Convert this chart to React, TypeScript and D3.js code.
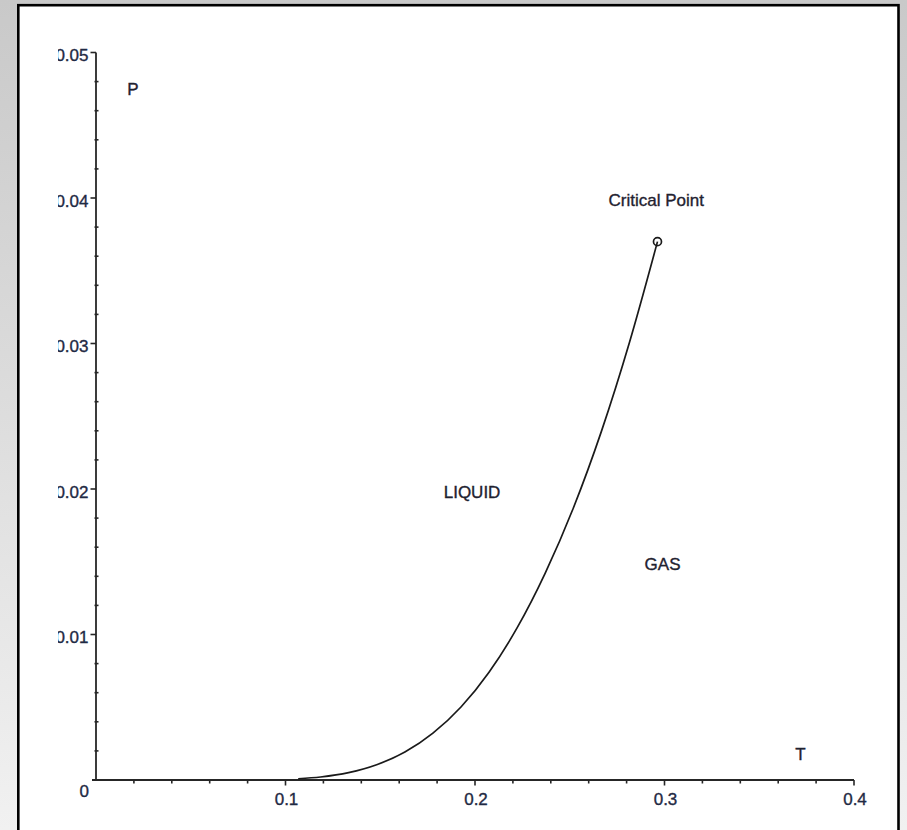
import React from "react";
import * as d3 from "d3";

// Coexistence (vapour-pressure) curve: T and P
const curveT = [0.1067, 0.1185, 0.1333, 0.1481, 0.163, 0.1778, 0.1926, 0.2074, 0.2222, 0.237, 0.2519, 0.2667, 0.2815, 0.2963];
const curveP = [0.000085, 0.000207, 0.000507, 0.00105, 0.00192, 0.00322, 0.00502, 0.00741, 0.01045, 0.0142, 0.01869, 0.02396, 0.03007, 0.037];

const criticalT = [0.2963];
const criticalP = [0.037];

const xTickValues = [0.1, 0.2, 0.3, 0.4];
const xTickLabels = ["0.1", "0.2", "0.3", "0.4"];
const yTickValues = [0.01, 0.02, 0.03, 0.04, 0.05];
const yTickLabels = ["0.01", "0.02", "0.03", "0.04", "0.05"];

const annotationTexts = ["P", "T", "Critical Point", "LIQUID", "GAS"];
const annotationT = [0.0165, 0.369, 0.2705, 0.1835, 0.2895];
const annotationP = [0.04705, 0.00135, 0.03944, 0.01938, 0.01444];

export default function App() {
  const W = 907;
  const H = 830;
  const x = d3.scaleLinear().domain([0, 0.4]).range([96, 854]);
  const y = d3.scaleLinear().domain([0, 0.05]).range([780, 52.5]);

  const pts: [number, number][] = curveT.map((t, i) => [t, curveP[i]]);
  const line = d3
    .line<[number, number]>()
    .x((d) => x(d[0]))
    .y((d) => y(d[1]))
    .curve(d3.curveMonotoneX);

  const xMinor = d3.range(0, 0.4001, 0.02).filter((v) => Math.abs((v * 10) - Math.round(v * 10)) > 1e-6);
  const yMinor = d3.range(0, 0.05001, 0.002).filter((v) => Math.abs((v * 100) - Math.round(v * 100)) > 1e-6);

  const font = "'Liberation Sans', Arial, sans-serif";
  const axisColor = "#262626";

  return (
    <svg
      width={W}
      height={H}
      style={{ position: "absolute", left: 0, top: 0, display: "block" }}
    >
      <defs>
        <linearGradient id="bg" x1="0" y1="0" x2="0" y2="1">
          <stop offset="0%" stopColor="#c9c9c9" />
          <stop offset="100%" stopColor="#f1f1f1" />
        </linearGradient>
        <clipPath id="ylabclip">
          <rect x={58} y={0} width={100} height={H} />
        </clipPath>
      </defs>
      <rect x={0} y={0} width={W} height={H} fill="url(#bg)" />
      <rect x={18.3} y={5.2} width={880.2} height={900} fill="#ffffff" stroke="#000" strokeWidth={2.6} />

      {/* axes */}
      <line x1={x(0) - 4} x2={x(0.4)} y1={y(0)} y2={y(0)} stroke={axisColor} strokeWidth={1.8} />
      <line x1={x(0)} x2={x(0)} y1={y(0.05)} y2={y(0) + 0.9} stroke={axisColor} strokeWidth={1.8} />

      {xMinor.map((v, i) => (
        <line key={"xm" + i} x1={x(v)} x2={x(v)} y1={y(0)} y2={y(0) + 3.5} stroke={axisColor} strokeWidth={1.6} />
      ))}
      {xTickValues.map((v, i) => (
        <line key={"xM" + i} x1={x(v)} x2={x(v)} y1={y(0)} y2={y(0) + 5.5} stroke={axisColor} strokeWidth={1.6} />
      ))}
      {yMinor.map((v, i) => (
        <line key={"ym" + i} x1={x(0) - 1.5} x2={x(0) + 2.5} y1={y(v)} y2={y(v)} stroke={axisColor} strokeWidth={1.6} />
      ))}
      {yTickValues.map((v, i) => (
        <line key={"yM" + i} x1={x(0) - 5.5} x2={x(0)} y1={y(v)} y2={y(v)} stroke={axisColor} strokeWidth={1.6} />
      ))}

      {/* tick labels */}
      <g fontFamily={font} fontSize={17} fill="#1f2a44" stroke="#1f2a44" strokeWidth={0.35}>
        <text x={89} y={797} textAnchor="end">0</text>
        {xTickValues.map((v, i) => (
          <text key={"xl" + i} x={x(v) + 1} y={805} textAnchor="middle">
            {xTickLabels[i]}
          </text>
        ))}
        <g clipPath="url(#ylabclip)">
          {yTickValues.map((v, i) => (
            <text key={"yl" + i} x={88.5} y={y(v) + 8.5} textAnchor="end">
              {yTickLabels[i]}
            </text>
          ))}
        </g>
      </g>

      {/* curve */}
      <path d={line(pts) || ""} fill="none" stroke="#1a1a1a" strokeWidth={1.7} />
      {criticalT.map((t, i) => (
        <circle key={"cp" + i} cx={x(t)} cy={y(criticalP[i])} r={4} fill="none" stroke="#1a1a1a" strokeWidth={1.7} />
      ))}

      {/* annotations */}
      <g fontFamily={font} fontSize={17} fill="#1f2230" stroke="#1f2230" strokeWidth={0.35}>
        {annotationTexts.map((s, i) => (
          <text key={"a" + i} x={x(annotationT[i])} y={y(annotationP[i])}>
            {s}
          </text>
        ))}
      </g>
    </svg>
  );
}
